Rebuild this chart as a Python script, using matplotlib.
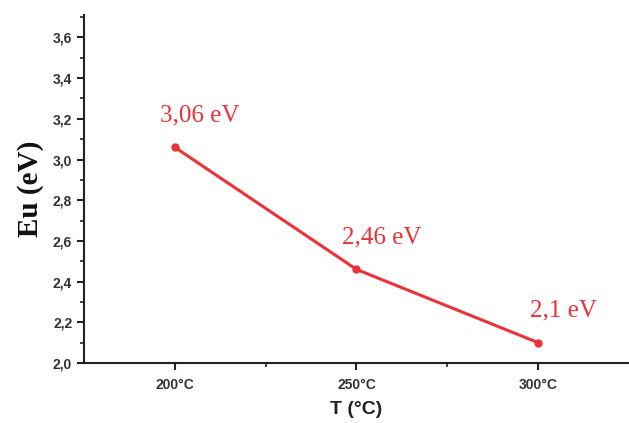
import matplotlib
matplotlib.use("Agg")
import matplotlib.pyplot as plt
from matplotlib.ticker import MultipleLocator, FuncFormatter, FixedLocator

temps = [200, 250, 300]
energies = [3.06, 2.46, 2.1]
labels = ["3,06 eV", "2,46 eV", "2,1 eV"]
xtick_labels = ["200°C", "250°C", "300°C"]

fig = plt.figure(figsize=(6.29, 4.23), dpi=100)
ax = fig.add_axes([0.1335, 0.1418, 0.8665, 0.8227])

red = "#ec3237"
ax.plot(temps, energies, color=red, lw=2.2, marker="o", ms=5, mfc=red, mec=red)
for t, e, lab in zip(temps, energies, labels):
    ax.annotate(lab, (t, e), xytext=(18, 23), textcoords="offset points",
                ha="center", va="center", color=red, fontsize=18,
                family="Liberation Serif")

ax.set_xlim(175, 325)
ax.set_ylim(2.0, 3.71)
ax.xaxis.set_major_locator(FixedLocator(temps))
ax.set_xticklabels(xtick_labels)
ax.xaxis.set_minor_locator(FixedLocator([225, 275]))
ax.yaxis.set_major_locator(MultipleLocator(0.2))
ax.yaxis.set_minor_locator(MultipleLocator(0.1))
ax.yaxis.set_major_formatter(FuncFormatter(lambda v, p: f"{v:.1f}".replace(".", ",")))

for s in ["top", "right"]:
    ax.spines[s].set_visible(False)
for s in ["left", "bottom"]:
    ax.spines[s].set_linewidth(1.5)
    ax.spines[s].set_color("#222222")

ax.tick_params(axis="both", which="major", direction="out", length=5, width=1.5,
               labelsize=10, labelcolor="#333333", color="#222222")
ax.tick_params(axis="x", which="major", pad=6)
ax.tick_params(axis="both", which="minor", direction="out", length=3, width=1.2, color="#222222")
for lab in ax.get_xticklabels() + ax.get_yticklabels():
    lab.set_fontweight("bold")
    lab.set_family("Liberation Sans")

ax.set_xlabel("T (°C)", fontsize=14, fontweight="bold", family="Liberation Sans",
              color="#222222", labelpad=6)
ax.set_ylabel("Eu (eV)", fontsize=21, fontweight="bold", family="Liberation Serif",
              color="#111111", labelpad=6)

fig.savefig("out.png", dpi=100)
